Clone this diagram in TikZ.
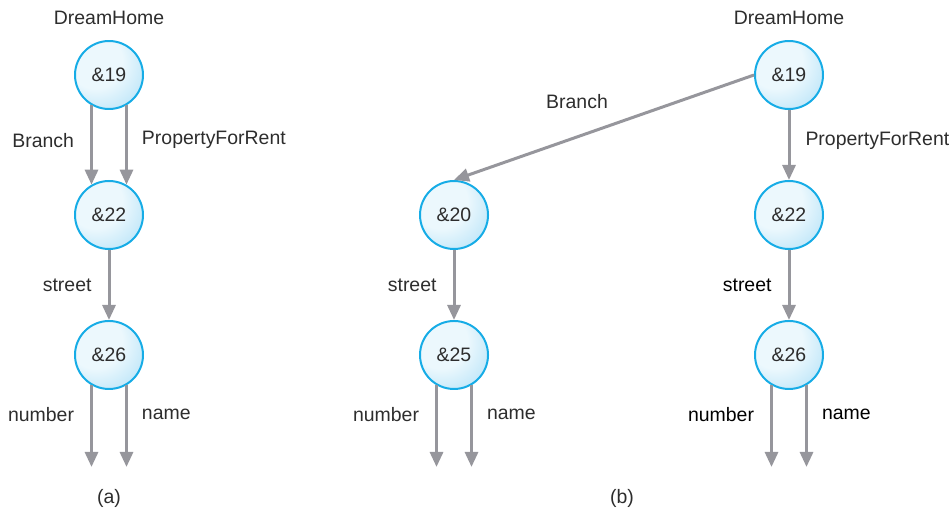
\documentclass[tikz,border=0pt]{standalone}
\usepackage{fontspec}
\setmainfont{Liberation Sans}
\usetikzlibrary{positioning,arrows.meta}

\definecolor{bubLight}{RGB}{236,248,253}
\definecolor{bubDeep}{RGB}{130,206,243}
\definecolor{bubEdge}{RGB}{22,172,230}
\definecolor{arrGray}{RGB}{150,150,156}
\definecolor{txtGray}{RGB}{45,45,45}
\pgfdeclareradialshading{bubble}{\pgfpoint{-14bp}{14bp}}{color(0bp)=(bubLight); color(20bp)=(bubLight); color(60bp)=(bubDeep); color(72bp)=(bubDeep)}

\begin{document}
\begin{tikzpicture}[>={Triangle[length=0.45cm,width=0.39cm]},node distance=2.1cm and 7.95cm,every node/.style={font=\fontsize{16.6}{20}\selectfont,text=txtGray},obj/.style={circle,draw=bubEdge,line width=1.7pt,shade,shading=bubble,minimum size=2.04cm,inner sep=0pt},arr/.style={->,draw=arrGray,line width=0.09cm},lbl/.style={inner sep=0pt},lbldark/.style={inner sep=0pt,text=black}]
\useasboundingbox (0,0) rectangle (28.53,-15.36);
% (a)
\node[obj] (a19) at (3.27,-2.25) {\&19};
\node[obj,below=of a19] (a22) {\&22};
\node[obj,below=of a22] (a26) {\&26};
\node[lbl,above=0.45cm of a19] (a0) {DreamHome};
\draw[arr] (a19.-120) -- node[lbl,left=0.48cm,pos=0.44] {Branch} (a22.120);
\draw[arr] (a19.-60) -- node[lbl,right=0.42cm,pos=0.44] {PropertyForRent} (a22.60);
\draw[arr] (a22) -- node[lbl,left=0.48cm] {street} (a26);
\coordinate (a26l) at ([yshift=-2.45cm]a26.-120);
\coordinate (a26r) at ([yshift=-2.45cm]a26.-60);
\draw[arr] (a26.-120) -- node[lbl,left=0.48cm,pos=0.36] {number} (a26l);
\draw[arr] (a26.-60) -- node[lbl,right=0.42cm,pos=0.36] {name} (a26r);
\node[lbl] (capa) at (3.27,-14.94) {(a)};
% (b)
\node[obj] (b19) at (23.67,-2.25) {\&19};
\node[obj,below=of b19] (b22) {\&22};
\node[obj,below=of b22] (b26) {\&26};
\node[obj,left=of b22] (b20) {\&20};
\node[obj,below=of b20] (b25) {\&25};
\node[lbl,above=0.45cm of b19] (b0) {DreamHome};
\draw[arr] (b19.west) -- node[lbl,pos=0.59,yshift=1.05cm] {Branch} (b20.north);
\draw[arr] (b19) -- node[lbl,right=0.45cm,pos=0.44] {PropertyForRent} (b22);
\draw[arr] (b20) -- node[lbl,left=0.48cm] {street} (b25);
\draw[arr] (b22) -- node[lbldark,left=0.48cm] {street} (b26);
\coordinate (b25l) at ([yshift=-2.45cm]b25.-120);
\coordinate (b25r) at ([yshift=-2.45cm]b25.-60);
\draw[arr] (b25.-120) -- node[lbl,left=0.48cm,pos=0.36] {number} (b25l);
\draw[arr] (b25.-60) -- node[lbl,right=0.42cm,pos=0.36] {name} (b25r);
\coordinate (b26l) at ([yshift=-2.45cm]b26.-120);
\coordinate (b26r) at ([yshift=-2.45cm]b26.-60);
\draw[arr] (b26.-120) -- node[lbldark,left=0.48cm,pos=0.36] {number} (b26l);
\draw[arr] (b26.-60) -- node[lbldark,right=0.42cm,pos=0.36] {name} (b26r);
\node[lbl] (capb) at (18.66,-14.94) {(b)};
\end{tikzpicture}
\end{document}
